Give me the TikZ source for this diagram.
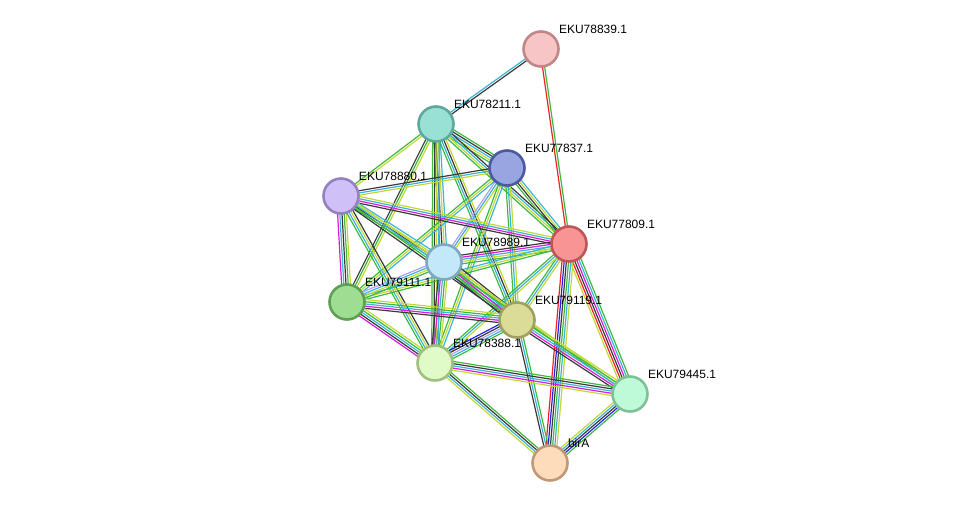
\documentclass[tikz,border=0pt]{standalone}
\usepackage{fontspec}
\setmainfont{Liberation Sans}
\usepackage{tikz}
\usetikzlibrary{calc,backgrounds}
\definecolor{TXM}{HTML}{C2D834}
\definecolor{NBH}{HTML}{3DBA3D}
\definecolor{DBS}{HTML}{3CB4D8}
\definecolor{CXP}{HTML}{3A3A3A}
\definecolor{EXP}{HTML}{D81CD8}
\definecolor{COC}{HTML}{2222EE}
\definecolor{FUS}{HTML}{EE2222}
\definecolor{HOM}{HTML}{A8A4F0}

% one bundle of parallel coloured lines between two nodes
\newcommand{\bundle}[4]{%
  \foreach \col [count=\i] in {#4} {
    \pgfmathsetmacro\off{(\i-(#3+1)/2)*2.2}
    \draw[\col, line width=1.2pt] ($(#1)!\off pt!90:(#2)$) -- ($(#2)!\off pt!-90:(#1)$);
  }%
}

\begin{document}
\begin{tikzpicture}[
    x=1pt, y=-1pt,
    font=\fontsize{12}{14}\selectfont,
    prot/.style={circle, line width=2.6pt, minimum size=35pt, inner sep=0pt},
    lbl/.style={inner sep=1.5pt, xshift=3pt, text=black},
  ]
  \useasboundingbox (0,0) rectangle (976,509);

  % proteins
  \node[prot, fill={rgb,255:red,247;green,197;blue,197}, draw={rgb,255:red,192;green,135;blue,135},
        label={[lbl]north east:EKU78839.1}] (p78839) at (541,49) {};
  \node[prot, fill={rgb,255:red,153;green,224;blue,213}, draw={rgb,255:red,95;green,168;blue,156},
        label={[lbl]north east:EKU78211.1}] (p78211) at (436,124) {};
  \node[prot, fill={rgb,255:red,153;green,165;blue,224}, draw={rgb,255:red,78;green,90;blue,160},
        label={[lbl]north east:EKU77837.1}] (p77837) at (507,168) {};
  \node[prot, fill={rgb,255:red,208;green,192;blue,248}, draw={rgb,255:red,149;green,128;blue,192},
        label={[lbl]north east:EKU78880.1}] (p78880) at (341,196) {};
  \node[prot, fill={rgb,255:red,249;green,148;blue,148}, draw={rgb,255:red,192;green,85;blue,85},
        label={[lbl]north east:EKU77809.1}] (p77809) at (569,244) {};
  \node[prot, fill={rgb,255:red,195;green,232;blue,250}, draw={rgb,255:red,128;green,168;blue,192},
        label={[lbl]north east:EKU78989.1}] (p78989) at (444,262) {};
  \node[prot, fill={rgb,255:red,159;green,222;blue,146}, draw={rgb,255:red,94;green,158;blue,85},
        label={[lbl]north east:EKU79111.1}] (p79111) at (347,302) {};
  \node[prot, fill={rgb,255:red,220;green,220;blue,153}, draw={rgb,255:red,160;green,160;blue,96},
        label={[lbl]north east:EKU79119.1}] (p79119) at (517,320) {};
  \node[prot, fill={rgb,255:red,224;green,251;blue,200}, draw={rgb,255:red,160;green,192;blue,128},
        label={[lbl]north east:EKU78388.1}] (p78388) at (435,363) {};
  \node[prot, fill={rgb,255:red,191;green,250;blue,216}, draw={rgb,255:red,128;green,192;blue,152},
        label={[lbl]north east:EKU79445.1}] (p79445) at (630,394) {};
  \node[prot, fill={rgb,255:red,253;green,220;blue,188}, draw={rgb,255:red,192;green,152;blue,120},
        label={[lbl]north east:birA}] (pbirA) at (550,463) {};

  % interactions
  \begin{pgfonlayer}{background}
    \bundle{p78839}{p78211}{2}{DBS,CXP}
    \bundle{p78839}{p77809}{2}{FUS,NBH}
    \bundle{p78211}{p77837}{5}{NBH,TXM,DBS,CXP,NBH}
    \bundle{p78211}{p78880}{2}{NBH,TXM}
    \bundle{p78211}{p77809}{4}{NBH,TXM,DBS,CXP}
    \bundle{p78211}{p78989}{4}{NBH,CXP,TXM,DBS}
    \bundle{p78211}{p79111}{3}{CXP,NBH,TXM}
    \bundle{p78211}{p79119}{4}{NBH,DBS,CXP,TXM}
    \bundle{p78211}{p78388}{4}{NBH,CXP,TXM,DBS}
    \bundle{p77837}{p78880}{3}{CXP,DBS,TXM}
    \bundle{p77837}{p77809}{4}{NBH,CXP,TXM,DBS}
    \bundle{p77837}{p78989}{3}{HOM,DBS,TXM}
    \bundle{p77837}{p79111}{3}{NBH,TXM,DBS}
    \bundle{p77837}{p79119}{3}{NBH,DBS,TXM}
    \bundle{p77837}{p78388}{3}{NBH,TXM,DBS}
    \bundle{p78880}{p77809}{4}{CXP,EXP,DBS,TXM}
    \bundle{p78880}{p78989}{4}{NBH,CXP,TXM,DBS}
    \bundle{p78880}{p79111}{5}{EXP,DBS,CXP,NBH,TXM}
    \bundle{p78880}{p79119}{4}{CXP,NBH,DBS,TXM}
    \bundle{p78880}{p78388}{4}{NBH,DBS,TXM,CXP}
    \bundle{p77809}{p78989}{5}{CXP,EXP,DBS,TXM,NBH}
    \bundle{p77809}{p79111}{3}{DBS,TXM,NBH}
    \bundle{p77809}{p79119}{3}{NBH,DBS,TXM}
    \bundle{p77809}{p78388}{3}{NBH,DBS,TXM}
    \bundle{p77809}{p79445}{6}{TXM,FUS,CXP,EXP,DBS,NBH}
    \bundle{p77809}{pbirA}{6}{FUS,COC,CXP,NBH,DBS,TXM}
    \bundle{p78989}{p79111}{4}{HOM,DBS,TXM,NBH}
    \bundle{p78989}{p79119}{6}{CXP,NBH,EXP,DBS,TXM,CXP}
    \bundle{p78989}{p78388}{5}{CXP,EXP,DBS,NBH,TXM}
    \bundle{p78989}{p79445}{2}{NBH,TXM}
    \bundle{p79111}{p79119}{5}{CXP,EXP,DBS,NBH,TXM}
    \bundle{p79111}{p78388}{5}{EXP,CXP,DBS,NBH,TXM}
    \bundle{p79119}{p78388}{5}{COC,CXP,HOM,DBS,NBH}
    \bundle{p79119}{p79445}{5}{CXP,EXP,DBS,NBH,TXM}
    \bundle{p79119}{pbirA}{3}{CXP,DBS,NBH}
    \bundle{p78388}{p79445}{5}{TXM,EXP,DBS,CXP,NBH}
    \bundle{p78388}{pbirA}{4}{TXM,DBS,CXP,NBH}
    \bundle{p79445}{pbirA}{5}{TXM,DBS,CXP,COC,NBH}
  \end{pgfonlayer}
\end{tikzpicture}
\end{document}
